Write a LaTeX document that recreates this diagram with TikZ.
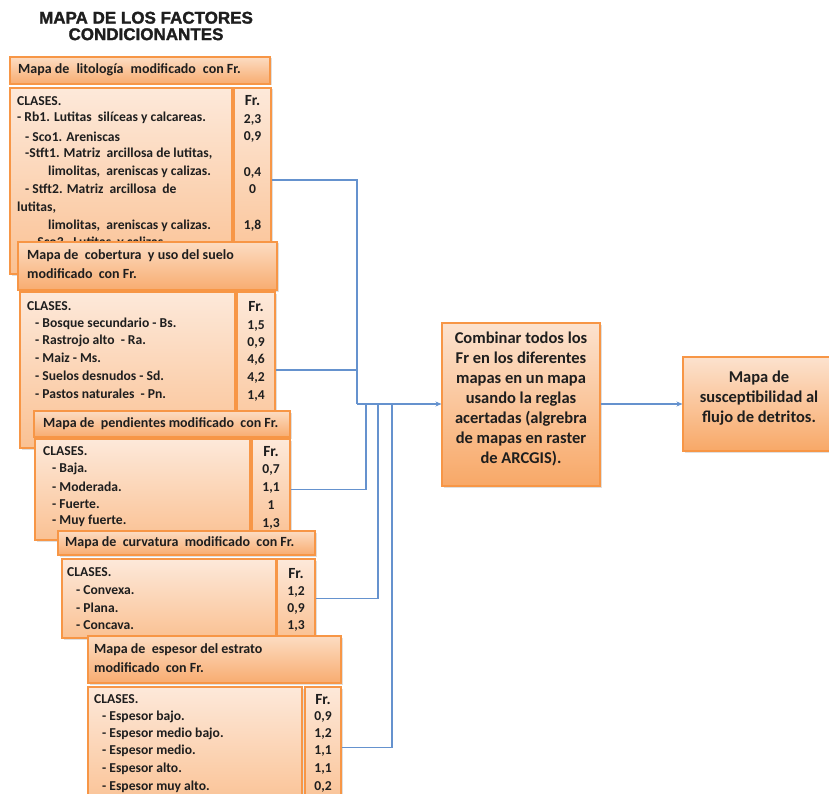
\documentclass[tikz,border=0pt]{standalone}
\usepackage{fontspec}
\setmainfont{Carlito}
\newfontfamily\titlefont[FakeBold=1.6]{Liberation Sans Bold}
\usetikzlibrary{shadows,arrows.meta,fit}
\definecolor{boxline}{HTML}{F79646}
\definecolor{hdrtop}{HTML}{FCDCC2}
\definecolor{hdrbot}{HTML}{F8AC70}
\definecolor{clstop}{HTML}{FDE9DA}
\definecolor{clsbot}{HTML}{FAC193}
\definecolor{midtop}{HTML}{FCE2CE}
\definecolor{midbot}{HTML}{F8A867}
\definecolor{link}{HTML}{6592CE}
\definecolor{ink}{HTML}{1E1E1E}
\newcommand{\gap}{\hspace{7pt}}
\tikzset{
  panel/.style={draw=boxline, line width=1.1pt, inner sep=0pt,
    drop shadow={shadow xshift=1.5pt, shadow yshift=-1.5pt, opacity=0.25}},
  hdr/.style={panel, top color=hdrtop, bottom color=hdrbot},
  cls/.style={panel, top color=clstop, bottom color=clsbot},
  big/.style={panel, top color=midtop, bottom color=midbot, text=ink,
    align=center, font=\bfseries\fontsize{16.5}{20}\selectfont},
  txt/.style={anchor=west, inner sep=0pt, text=ink,
    font=\bfseries\fontsize{13.6}{15}\selectfont},
  htxt/.style={txt, font=\bfseries\fontsize{14}{15}\selectfont},
  num/.style={anchor=center, inner sep=0pt, text=ink,
    font=\bfseries\fontsize{13.6}{15}\selectfont},
  frh/.style={anchor=center, inner sep=0pt, text=ink,
    font=\bfseries\fontsize{15.5}{17}\selectfont},
  conn/.style={draw=link, line width=1.2pt},
  arr/.style={conn, -{Stealth[length=6pt,width=5pt]}}
}
\begin{document}
\begin{tikzpicture}[x=1pt,y=-1pt]
\useasboundingbox (0,0) rectangle (829,794);

% title
\node[inner sep=0pt, align=center, text=ink,
  font=\titlefont\fontsize{17}{16.5}\selectfont] (title) at (146,26)
  {MAPA DE LOS FACTORES\\CONDICIONANTES};

% ---- litologia
\node[hdr, fit={(10,57) (270,84)}] (h1) {};
\node[htxt] (h1t) at (18,70) {Mapa de\gap litología\gap modificado\gap con Fr.};
\node[cls, fit={(10,88) (232,274)}] (c1) {};
\node[cls, fit={(234,88) (271,272)}] (fr1) {};
\node[txt] (c1a) at (17,101) {CLASES.};
\node[txt] (c1b) at (17,118) {- Rb1. Lutitas\ \ silíceas y calcareas.};
\node[txt] (c1c) at (25,137) {- Sco1. Areniscas};
\node[txt] (c1d) at (25,154) {-Stft1. Matriz\ \ arcillosa\ de lutitas,};
\node[txt] (c1e) at (48,172) {limolitas,\ \ areniscas\ y calizas.};
\node[txt] (c1f) at (25,189) {- Stft2. Matriz\ \ arcillosa\ \ de};
\node[txt] (c1g) at (17,208) {lutitas,};
\node[txt] (c1h) at (48,226) {limolitas,\ \ areniscas\ y calizas.};
\node[txt] (c1i) at (30,243) {- Sco3.\ \ Lutitas\ \ y calizas.};
\node[frh] (f1a) at (252.5,101) {Fr.};
\node[num] (f1b) at (252.5,120) {2,3};
\node[num] (f1c) at (252.5,137) {0,9};
\node[num] (f1d) at (252.5,173) {0,4};
\node[num] (f1e) at (252.5,189) {0};
\node[num] (f1f) at (252.5,226) {1,8};

% ---- cobertura
\node[hdr, fit={(18,242) (277,290)}] (h2) {};
\node[htxt] (h2a) at (27,256) {Mapa de\ \ cobertura\ \ y uso del suelo};
\node[htxt] (h2b) at (27,274) {modificado\ \ con Fr.};
\node[cls, fit={(20,292) (235,448)}] (c2) {};
\node[cls, fit={(237,292) (275,448)}] (fr2) {};
\node[txt] (c2a) at (27,306) {CLASES.};
\node[txt] (c2b) at (35,324) {- Bosque secundario - Bs.};
\node[txt] (c2c) at (35,341) {- Rastrojo\ alto\ \ - Ra.};
\node[txt] (c2d) at (35,358) {- Maiz - Ms.};
\node[txt] (c2e) at (35,376) {- Suelos desnudos - Sd.};
\node[txt] (c2f) at (35,394) {- Pastos naturales\ \ - Pn.};
\node[frh] (f2a) at (256,307) {Fr.};
\node[num] (f2b) at (256,326) {1,5};
\node[num] (f2c) at (256,343) {0,9};
\node[num] (f2d) at (256,360) {4,6};
\node[num] (f2e) at (256,378) {4,2};
\node[num] (f2f) at (256,396) {1,4};

% ---- pendientes
\node[hdr, fit={(34,411) (290,437)}] (h3) {};
\node[htxt] (h3t) at (43,424) {Mapa de\ \ pendientes modificado\ \ con Fr.};
\node[cls, fit={(35,439) (250,540)}] (c3) {};
\node[cls, fit={(252,439) (290,540)}] (fr3) {};
\node[txt] (c3a) at (43,451) {CLASES.};
\node[txt] (c3b) at (52,469) {- Baja.};
\node[txt] (c3c) at (52,487) {- Moderada.};
\node[txt] (c3d) at (52,504) {- Fuerte.};
\node[txt] (c3e) at (52,521) {- Muy fuerte.};
\node[frh] (f3a) at (271,452) {Fr.};
\node[num] (f3b) at (271,470) {0,7};
\node[num] (f3c) at (271,488) {1,1};
\node[num] (f3d) at (271,505) {1};
\node[num] (f3e) at (271,524) {1,3};

% ---- curvatura
\node[hdr, fit={(58,531) (315,555)}] (h4) {};
\node[htxt] (h4t) at (65,543) {Mapa de\ \ curvatura\ \ modificado\ \ con Fr.};
\node[cls, fit={(62,559) (276,638)}] (c4) {};
\node[cls, fit={(277,559) (315,638)}] (fr4) {};
\node[txt] (c4a) at (67,572) {CLASES.};
\node[txt] (c4b) at (76,590) {- Convexa.};
\node[txt] (c4c) at (76,608) {- Plana.};
\node[txt] (c4d) at (76,625) {- Concava.};
\node[frh] (f4a) at (296,574) {Fr.};
\node[num] (f4b) at (296,592) {1,2};
\node[num] (f4c) at (296,609) {0,9};
\node[num] (f4d) at (296,626) {1,3};

% ---- espesor
\node[hdr, fit={(88,636) (341,683)}] (h5) {};
\node[htxt] (h5a) at (94,650) {Mapa de\ \ espesor del estrato};
\node[htxt] (h5b) at (94,668) {modificado\ \ con Fr.};
\node[cls, fit={(88,687) (302,808)}] (c5) {};
\node[cls, fit={(305,687) (341,808)}] (fr5) {};
\node[txt] (c5a) at (94,699) {CLASES.};
\node[txt] (c5b) at (102,717) {- Espesor bajo.};
\node[txt] (c5c) at (102,734) {- Espesor medio bajo.};
\node[txt] (c5d) at (102,751) {- Espesor medio.};
\node[txt] (c5e) at (102,769) {- Espesor alto.};
\node[txt] (c5f) at (102,787) {- Espesor muy alto.};
\node[frh] (f5a) at (323,700) {Fr.};
\node[num] (f5b) at (323,717) {0,9};
\node[num] (f5c) at (323,734) {1,2};
\node[num] (f5d) at (323,751) {1,1};
\node[num] (f5e) at (323,769) {1,1};
\node[num] (f5f) at (323,787) {0,2};

% ---- combination and result
\node[big, fit={(442,323) (600,486)}] (mid) {Combinar todos los\\Fr en los diferentes\\mapas en un mapa\\usando la reglas\\acertadas (algrebra\\de mapas en raster\\de ARCGIS).};
\node[big, fit={(683,357) (835,451)}] (res) {Mapa de\\susceptibilidad al\\flujo de detritos.};

% ---- connectors
\coordinate (j1) at (357,404);
\coordinate (j3) at (366,404);
\coordinate (j4) at (378,404);
\coordinate (j5) at (392,404);
\draw[conn] (fr1.east) -| (j1);
\draw[conn] (fr2.east) -| (j1);
\draw[conn] (fr3.east) -| (j3);
\draw[conn] (fr4.east) -| (j4);
\draw[conn] (fr5.east) -| (j5);
\draw[arr] (j1) -- (j1 -| mid.west);
\draw[arr] (mid.east |- res.west) -- (res.west);
\end{tikzpicture}
\end{document}
